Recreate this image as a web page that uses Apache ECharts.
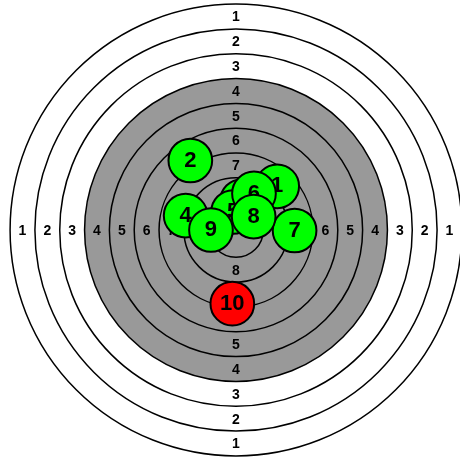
<!DOCTYPE html>
<html>
<head>
<meta charset="utf-8">
<script src="https://cdn.jsdelivr.net/npm/echarts@6/dist/echarts.min.js"></script>
<style>html,body{margin:0;padding:0;background:#fff}#c{width:460px;height:460px}</style>
</head>
<body>
<div id="c"></div>
<script>
// ISSF 10 m air rifle target, units in mm from the centre
const ringNumbers = [1, 2, 3, 4, 5, 6, 7, 8, 9, 10];
const ringRadii   = [22.75, 20.25, 17.75, 15.25, 12.75, 10.25, 7.75, 5.25, 2.75, 0.25];
const blackFrom   = 4; // rings 4..10 form the aiming mark
const labelRings  = [1, 2, 3, 4, 5, 6, 7, 8];
const labelRadii  = [21.5, 19, 16.5, 14, 11.5, 9, 6.5, 4];

const shotNo = [1, 2, 3, 4, 5, 6, 7, 8, 9, 10];
const shotX  = [4.15, -4.6, 0.6, -5.07, -0.30, 1.81, 5.9, 1.78, -2.52, -0.37];
const shotY  = [4.4, 7.0, 2.92, 1.45, 1.81, 3.68, -0.05, 1.35, 0.0, -7.42];
const pelletRadius = 2.2;
const lastShot = 10;

const ringData = ringNumbers.map((k, i) => [k, ringRadii[i]]);
const labelData = [];
labelRings.forEach((k, i) => {
  const r = labelRadii[i];
  labelData.push([0, r, k], [0, -r, k], [-r, 0, k], [r, 0, k]);
});
const shotData = shotNo.map((n, i) => [shotX[i], shotY[i], n]);

const chart = echarts.init(document.getElementById('c'));
chart.setOption({
  animation: false,
  grid: { left: 0, top: 0, width: 460, height: 460 },
  xAxis: { type: 'value', min: -23.766, max: 22.558, show: false },
  yAxis: { type: 'value', min: -23.162, max: 23.162, show: false },
  series: [
    {
      type: 'custom',
      z: 1,
      data: ringData,
      encode: { x: -1, y: -1 },
      clip: false,
      renderItem: function (params, api) {
        const c = api.coord([0, 0]);
        const r = api.size([api.value(1), 0])[0];
        const k = api.value(0);
        return {
          type: 'circle',
          shape: { cx: c[0], cy: c[1], r: r },
          style: { fill: k >= blackFrom ? '#999999' : '#ffffff', stroke: '#000', lineWidth: 1.5 }
        };
      }
    },
    {
      type: 'custom',
      z: 2,
      data: labelData,
      clip: false,
      renderItem: function (params, api) {
        const c = api.coord([api.value(0), api.value(1)]);
        return {
          type: 'text',
          style: {
            text: String(api.value(2)), x: c[0], y: c[1] + 1,
            align: 'center', verticalAlign: 'middle',
            fontSize: 14, fontWeight: 'bold', fontFamily: 'Liberation Sans', fill: '#000'
          }
        };
      }
    },
    {
      type: 'custom',
      z: 3,
      data: shotData,
      clip: false,
      renderItem: function (params, api) {
        const c = api.coord([api.value(0), api.value(1)]);
        const r = api.size([pelletRadius, 0])[0];
        const n = api.value(2);
        return {
          type: 'group',
          children: [
            {
              type: 'circle',
              shape: { cx: c[0], cy: c[1], r: r },
              style: { fill: n === lastShot ? '#ff0000' : '#00ff00', stroke: '#000', lineWidth: 2 }
            },
            {
              type: 'text',
              style: {
                text: String(n), x: c[0], y: c[1],
                align: 'center', verticalAlign: 'middle',
                fontSize: 22, fontWeight: 'bold', fontFamily: 'Liberation Sans', fill: '#000'
              }
            }
          ]
        };
      }
    }
  ]
});
</script>
</body>
</html>
